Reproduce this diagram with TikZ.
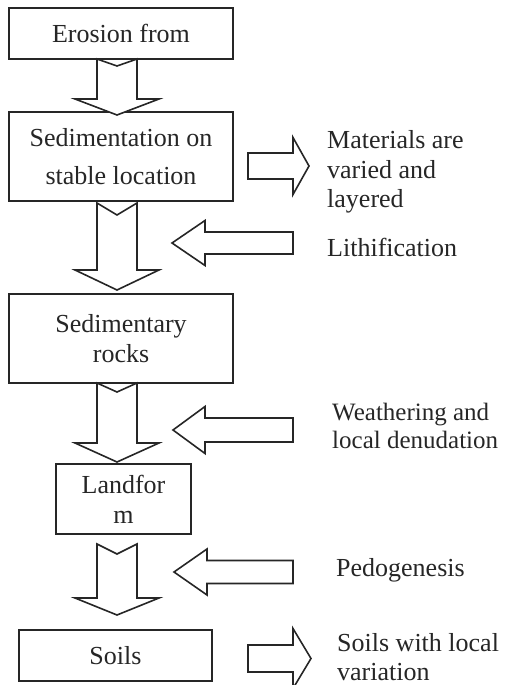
\documentclass[tikz,border=0pt]{standalone}
\usepackage{fontspec}
\setmainfont{Liberation Serif}
\begin{document}
\begin{tikzpicture}[x=1pt,y=-1pt,
  box/.style={draw=black!85, line width=1.5pt, inner sep=0pt, align=center,
    font=\fontsize{26}{30}\selectfont, text=black!85},
  side/.style={inner sep=0pt, align=left, anchor=west,
    font=\fontsize{26}{29.5}\selectfont, text=black!85},
  blockarrow/.style={draw=black!85, line width=1.6pt, line join=miter, fill=white}]
\useasboundingbox (0,0) rectangle (506,685);
% boxes
\node[box, minimum width=224pt, minimum height=51pt] (b1) at (121,33.5) {Erosion from};
\node[box, minimum width=224pt, minimum height=89pt] (b2) at (121,156.5) {Sedimentation on\\[8pt]stable location};
\node[box, minimum width=224pt, minimum height=89pt] (b3) at (121,338.5) {Sedimentary\\rocks};
\node[box, minimum width=135pt, minimum height=70pt] (b4) at (123.5,499) {Landfor\\m};
\node[box, minimum width=193pt, minimum height=51pt] (b5) at (115.5,655.5) {Soils};
% side texts
\node[side] (t1) at (327,172) {Materials are\\varied and\\layered};
\node[side] (t2) at (327,247) {Lithification};
\node[side, font=\fontsize{25}{28.5}\selectfont] (t3) at (332,426) {Weathering and\\local denudation};
\node[side] (t4) at (336,570) {Pedogenesis};
\node[side] (t5) at (337,657) {Soils with local\\variation};
% down block arrows
\foreach \top/\notch/\head/\tip in {59/66/99/115, 203/215/270/290, 383/392/443/462, 544/554/598/615}{
  \draw[blockarrow] (97,\top) -- (117,\notch) -- (137,\top) -- (137,\head) -- (159,\head)
    -- (117,\tip) -- (75,\head) -- (97,\head) -- cycle;
}
% left block arrows
\foreach \tip/\cy/\base/\hh/\sh in {172/243/205/22.5/11, 173/430/205/23.5/12, 174/572/207/23/11.5}{
  \draw[blockarrow] (293,\cy-\sh) -- (\base,\cy-\sh) -- (\base,\cy-\hh) -- (\tip,\cy)
    -- (\base,\cy+\hh) -- (\base,\cy+\sh) -- (293,\cy+\sh) -- cycle;
}
% right block arrows
\foreach \cy/\hh/\sh/\tip in {166/28.5/13/309, 658.5/30/13.5/311}{
  \draw[blockarrow] (248,\cy-\sh) -- (293,\cy-\sh) -- (293,\cy-\hh) -- (\tip,\cy)
    -- (293,\cy+\hh) -- (293,\cy+\sh) -- (248,\cy+\sh) -- cycle;
}
\end{tikzpicture}
\end{document}
